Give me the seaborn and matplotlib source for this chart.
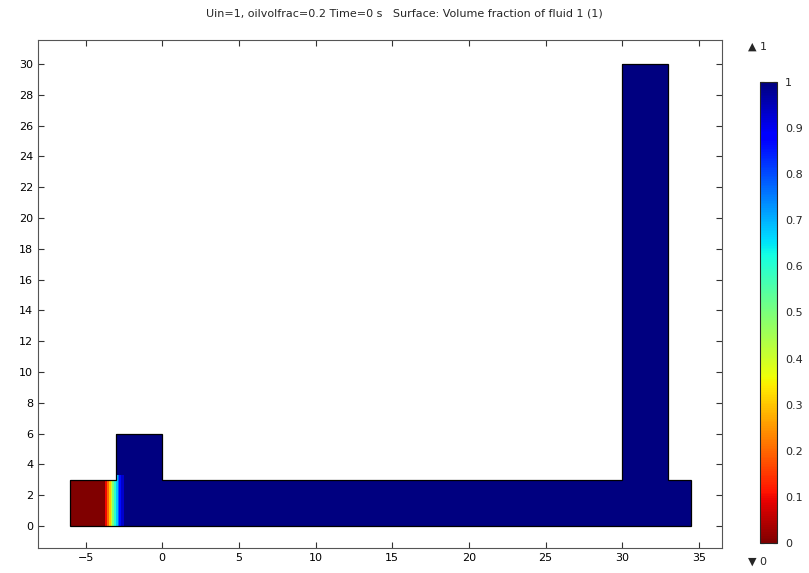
import numpy as np
import matplotlib
matplotlib.use("Agg")
import matplotlib.pyplot as plt
import seaborn as sns
from matplotlib.patches import Polygon

# channel geometry outline
outline_x = [-6, -3, -3, 0, 0, 30, 30, 33, 33, 34.5, 34.5, -6]
outline_y = [3, 3, 6, 6, 3, 3, 30, 30, 3, 3, 0, 0]

# volume fraction of fluid 1 across the interface (cell edges, value per cell)
cell_edges_x = [-6, -3.75, -3.6, -3.45, -3.35, -3.25, -3.15, -3.0, -2.9, -2.8, -2.7, -2.5, 34.5]
cell_edges_y = [0, 3.3, 30]
fraction_low = [0.0, 0.1, 0.2, 0.3, 0.4, 0.5, 0.6, 0.68, 0.78, 0.86, 0.93, 1.0]
fraction_high = [0.0, 0.1, 0.2, 0.3, 0.4, 0.5, 0.6, 1.0, 1.0, 1.0, 1.0, 1.0]

xticks = [-5, 0, 5, 10, 15, 20, 25, 30, 35]
yticks = list(range(0, 31, 2))
cbar_ticks = [0, 0.1, 0.2, 0.3, 0.4, 0.5, 0.6, 0.7, 0.8, 0.9, 1]

sns.set_style("ticks")
plt.rcParams['font.family'] = ['DejaVu Sans']

fig = plt.figure(figsize=(8.09, 5.73), dpi=100)
ax = fig.add_axes([0.047, 0.0436, 0.8455, 0.8866])
cax = fig.add_axes([0.9394, 0.0524, 0.021, 0.8045])

cmap = sns.color_palette("jet_r", as_cmap=True)

field = np.array([fraction_low, fraction_high])
mesh = ax.pcolormesh(np.array(cell_edges_x), np.array(cell_edges_y), field,
                     cmap=cmap, vmin=0, vmax=1, shading="flat")
poly_pts = np.column_stack([outline_x, outline_y])
clip = Polygon(poly_pts, closed=True, transform=ax.transData, facecolor="none")
mesh.set_clip_path(clip)
ax.add_patch(Polygon(poly_pts, closed=True, facecolor="none",
                     edgecolor="black", linewidth=0.9, zorder=3))

ax.set_xlim(-8.1, 36.5)
ax.set_ylim(-1.43, 31.56)
ax.set_xticks(xticks)
ax.set_yticks(yticks)
ax.tick_params(direction="in", top=True, right=True, length=4, width=0.8,
               labelsize=8, colors="#333333", labelcolor="black")
for s in ax.spines.values():
    s.set_color("#555555")
    s.set_linewidth(0.8)

fig.text(0.5, 0.977, "Uin=1, oilvolfrac=0.2 Time=0 s   Surface: Volume fraction of fluid 1 (1)",
         ha="center", va="center", fontsize=8)

cb = fig.colorbar(mesh, cax=cax, ticks=cbar_ticks)
cb.set_ticklabels(["0", "0.1", "0.2", "0.3", "0.4", "0.5", "0.6", "0.7", "0.8", "0.9", "1"])
cax.tick_params(direction="in", left=True, right=True, length=3, width=0.8,
                labelsize=8, pad=6)
cb.outline.set_linewidth(0.8)

fig.text(0.9245, 0.918, "\u25B2 1", ha="left", va="center", fontsize=8)
fig.text(0.9245, 0.019, "\u25BC 0", ha="left", va="center", fontsize=8)

fig.savefig("out.png", dpi=100)
